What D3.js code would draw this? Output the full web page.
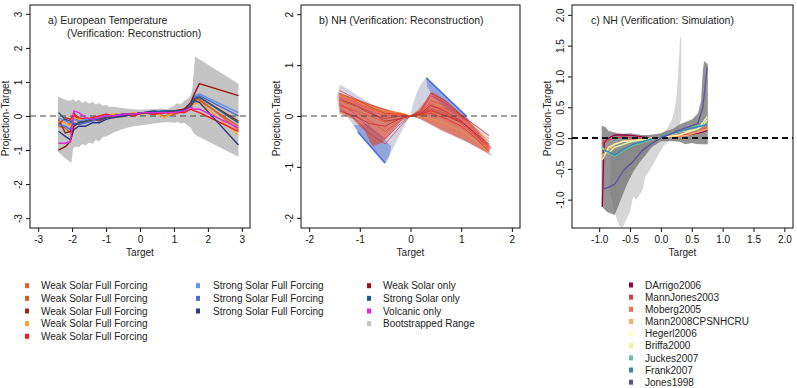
<!DOCTYPE html>
<html>
<head>
<meta charset="utf-8">
<script src="https://cdn.jsdelivr.net/npm/d3@7"></script>
<style>
  body { margin: 0; background: #fff; }
  svg { font-family: "Liberation Sans", Arial, sans-serif; }
</style>
</head>
<body>
<svg id="chart" width="797" height="388"></svg>
<script>
// ---------- panel a: European temperature ----------
const aTarget = [-2.4, -2.2, -2.05, -1.95, -1.8, -1.6, -1.4, -1.2, -1.0, -0.8, -0.5, -0.2, 0.1, 0.4, 0.7, 1.0, 1.3, 1.5, 1.6, 1.75, 2.9];
const weakFull1 = [-0.2, -0.1, -0.25, 0.0, -0.1, -0.05, -0.12, -0.05, 0.0, -0.05, 0.0, 0.05, 0.1, 0.05, 0.1, 0.05, 0.15, 0.3, 0.45, 0.5, -0.4];
const weakFull2 = [-0.3, -0.35, -0.5, -0.1, -0.15, -0.2, -0.1, -0.1, -0.05, -0.02, 0.02, 0.05, 0.1, 0.12, 0.0, 0.05, 0.2, 0.35, 0.4, 0.45, -0.3];
const weakFull3 = [-0.1, -0.5, -0.45, 0.1, -0.2, -0.15, -0.1, -0.15, -0.05, 0.0, -0.02, 0.05, 0.08, 0.1, 0.15, 0.1, 0.2, 0.35, 0.5, 0.55, -0.15];
const weakFull4 = [-0.15, -0.2, -0.3, -0.05, -0.1, -0.15, -0.05, -0.1, 0.0, 0.05, 0.05, 0.1, 0.05, 0.15, -0.05, 0.1, 0.2, 0.25, 0.35, 0.4, -0.55];
const weakFull5 = [-0.25, -0.05, -0.1, 0.05, -0.05, -0.1, -0.05, 0.0, 0.05, 0.0, 0.05, 0.0, 0.1, 0.05, 0.1, 0.1, 0.1, 0.2, 0.15, 0.1, -0.45];
const strongFull1 = [-0.05, -0.15, -0.2, -0.1, -0.15, -0.1, -0.1, -0.05, 0.0, 0.0, 0.05, 0.05, 0.1, 0.15, 0.15, 0.15, 0.2, 0.4, 0.6, 0.65, 0.1];
const strongFull2 = [-0.25, -0.3, -0.4, -0.2, -0.25, -0.2, -0.15, -0.1, -0.05, 0.0, 0.0, 0.05, 0.1, 0.1, 0.15, 0.15, 0.15, 0.35, 0.55, 0.6, 0.0];
const strongFull3 = [-0.45, -0.6, -0.7, -0.4, -0.3, -0.3, -0.2, -0.2, -0.1, -0.05, 0.0, 0.05, 0.1, 0.15, 0.1, 0.15, 0.15, 0.3, 0.45, 0.4, -0.85];
const weakOnly = [-1.0, -0.9, -0.75, -0.3, -0.2, -0.15, -0.1, -0.1, -0.05, 0.0, 0.05, 0.05, 0.1, 0.1, 0.1, 0.15, 0.2, 0.4, 0.65, 0.95, 0.6];
const strongOnly = [0.1, -0.1, -0.15, -0.25, -0.2, -0.15, -0.1, -0.1, -0.05, 0.0, 0.05, 0.05, 0.1, 0.1, 0.15, 0.15, 0.15, 0.3, 0.5, 0.55, -0.2];
const volcanicOnly = [-0.8, -0.8, -0.75, 0.15, 0.1, -0.05, -0.1, -0.05, 0.0, 0.0, 0.05, 0.05, 0.1, 0.1, 0.1, 0.1, 0.15, 0.25, 0.2, 0.2, -0.35];

const aBandTarget = [-2.42, -2.3, -2.2, -2.1, -2.02, -1.97, -1.9, -1.8, -1.7, -1.6, -1.5, -1.4, -1.3, -1.2, -1.1, -1.0, -0.9, -0.8, -0.6, -0.4, -0.2, 0, 0.2, 0.4, 0.6, 0.8, 1.0, 1.1, 1.2, 1.3, 1.4, 1.5, 1.55, 1.62, 2.9];
const aBandUpper = [0.57, 0.52, 0.48, 0.45, 0.47, 0.5, 0.42, 0.48, 0.38, 0.44, 0.36, 0.42, 0.34, 0.38, 0.3, 0.33, 0.26, 0.28, 0.24, 0.22, 0.2, 0.18, 0.2, 0.2, 0.22, 0.2, 0.3, 0.38, 0.34, 0.45, 0.5, 0.62, 0.86, 1.75, 0.95];
const aBandLower = [-1.05, -1.15, -1.25, -1.32, -1.38, -0.95, -0.9, -0.92, -0.82, -0.86, -0.78, -0.82, -0.7, -0.75, -0.62, -0.6, -0.55, -0.5, -0.42, -0.35, -0.3, -0.28, -0.25, -0.22, -0.2, -0.18, -0.2, -0.18, -0.22, -0.2, -0.28, -0.35, -0.45, -0.55, -1.2];

const aSeries = [weakFull1, weakFull2, weakFull3, weakFull4, weakFull5, strongFull1, strongFull2, strongFull3, weakOnly, strongOnly, volcanicOnly];
const aNames = ["Weak Solar Full Forcing", "Weak Solar Full Forcing", "Weak Solar Full Forcing", "Weak Solar Full Forcing", "Weak Solar Full Forcing",
  "Strong Solar Full Forcing", "Strong Solar Full Forcing", "Strong Solar Full Forcing", "Weak Solar only", "Strong Solar only", "Volcanic only"];
const aColors = ["#ef5a26", "#cf5f2a", "#8a2f14", "#f7a62c", "#ee1a16", "#5e90f0", "#4d6ad6", "#2b3a7e", "#981010", "#1f5b82", "#e326e0"];

// ---------- panel b: NH, verification reconstruction ----------
const bLightLeft = [[-1.39, 0.62], [-1.46, 0.36], [-1.42, 0.18], [-1.2, -0.08], [-1.04, -0.31], [-0.5, -0.93], [-0.38, -0.7], [-0.2, -0.35], [-0.05, -0.05], [0.0, 0.0], [-0.3, 0.06], [-0.8, 0.25], [-1.2, 0.5]];
const bLightRight = [[0.0, 0.0], [0.04, 0.2], [0.12, 0.45], [0.2, 0.62], [0.31, 0.75], [0.7, 0.38], [1.1, 0.0], [1.35, -0.35], [1.62, -0.8], [1.45, -0.7], [1.0, -0.45], [0.5, -0.2], [0.15, -0.05]];
const bBlueLeft = [[-1.12, -0.18], [-1.04, -0.31], [-0.5, -0.93], [-0.42, -0.8], [-0.38, -0.6], [-0.55, -0.42], [-0.85, -0.15]];
const bBlueRight = [[0.31, 0.75], [0.7, 0.38], [1.1, 0.0], [1.18, -0.12], [1.0, -0.05], [0.7, 0.14], [0.45, 0.38], [0.33, 0.58]];
const bRedLeft = [[-1.42, 0.45], [-1.1, 0.35], [-0.7, 0.2], [-0.35, 0.1], [-0.1, 0.05], [0.0, 0.0], [-0.15, -0.05], [-0.35, -0.3], [-0.55, -0.52], [-0.75, -0.6], [-0.9, -0.3], [-1.15, -0.05], [-1.4, 0.05]];
const bRedRight = [[0.0, 0.0], [0.15, 0.12], [0.3, 0.3], [0.42, 0.48], [0.7, 0.3], [1.05, 0.0], [1.35, -0.3], [1.6, -0.62], [1.52, -0.72], [1.1, -0.5], [0.6, -0.28], [0.2, -0.06]];
const bTarget = [-1.4, -1.1, -0.8, -0.5, -0.2, 0, 0.2, 0.4, 0.7, 1.0, 1.3, 1.55];
const bMembers = [
  [0.45, 0.32, 0.22, 0.12, 0.05, 0.0, 0.05, 0.15, 0.05, -0.15, -0.4, -0.6],
  [0.35, 0.25, 0.15, 0.08, 0.04, 0.0, 0.1, 0.25, 0.12, -0.05, -0.3, -0.5],
  [0.3, 0.2, 0.05, -0.05, 0.0, 0.0, 0.02, 0.05, -0.05, -0.2, -0.45, -0.7],
  [0.2, 0.1, -0.1, -0.3, -0.1, 0.0, 0.05, 0.3, 0.2, 0.0, -0.25, -0.45],
  [0.25, 0.05, -0.25, -0.45, -0.15, 0.0, 0.08, 0.4, 0.25, 0.02, -0.2, -0.4],
  [0.4, 0.3, 0.2, 0.1, 0.06, 0.0, 0.0, -0.05, -0.15, -0.3, -0.5, -0.72],
  [0.1, 0.0, -0.15, -0.2, -0.05, 0.0, 0.03, 0.1, 0.0, -0.12, -0.35, -0.55],
  [0.38, 0.28, 0.1, 0.0, 0.02, 0.0, 0.06, 0.2, 0.1, -0.08, -0.32, -0.62],
  [0.15, -0.05, -0.35, -0.55, -0.2, 0.0, 0.1, 0.45, 0.3, 0.0, -0.2, -0.38],
  [0.3, 0.18, 0.12, 0.06, 0.03, 0.0, -0.02, -0.1, -0.2, -0.35, -0.55, -0.75],
  [0.5, 0.35, 0.18, 0.05, 0.04, 0.0, 0.04, 0.12, 0.02, -0.1, -0.38, -0.65],
  [0.22, 0.12, 0.0, -0.12, -0.04, 0.0, 0.05, 0.18, 0.15, -0.02, -0.28, -0.5],
  [0.33, 0.22, 0.08, -0.1, -0.06, 0.0, 0.04, 0.22, 0.08, -0.1, -0.36, -0.58],
  [0.42, 0.3, 0.14, 0.02, 0.02, 0.0, 0.02, 0.08, -0.08, -0.22, -0.42, -0.68]
];
const bMemberColors = ["#e8301c", "#f06a22", "#c41a1a", "#e0452a", "#d82b5a", "#f5a21e", "#b0161e", "#e83c8c", "#cc2030", "#f08030", "#d42020", "#e85020", "#a81828", "#ff5a1a"];

// ---------- panel c: NH, verification simulation ----------
const cLightBand = [[-0.82, -0.2], [-0.6, -0.15], [-0.4, -0.12], [-0.2, -0.05], [0.0, 0.05], [0.1, 0.15], [0.18, 0.3], [0.22, 0.45], [0.26, 0.75], [0.28, 1.1], [0.3, 1.4], [0.31, 1.65], [0.33, 1.6], [0.33, 0.3], [0.25, 0.1], [0.15, -0.02], [0.05, -0.12], [-0.05, -0.28], [-0.12, -0.42], [-0.2, -0.55], [-0.25, -0.62], [-0.3, -0.85], [-0.4, -1.0], [-0.45, -0.95], [-0.5, -1.2], [-0.55, -1.3], [-0.62, -1.45], [-0.68, -1.42], [-0.75, -1.2], [-0.82, -0.9]];
const cDarkBand = [[-0.96, 0.2], [-0.9, 0.18], [-0.85, 0.12], [-0.78, 0.1], [-0.7, 0.08], [-0.6, 0.07], [-0.5, 0.08], [-0.4, 0.06], [-0.3, 0.05], [-0.2, 0.05], [-0.1, 0.06], [0.0, 0.08], [0.1, 0.12], [0.2, 0.15], [0.3, 0.22], [0.4, 0.26], [0.5, 0.3], [0.55, 0.35], [0.6, 0.4], [0.65, 0.6], [0.68, 1.1], [0.7, 1.25], [0.76, 1.2], [0.76, -0.1], [0.6, -0.1], [0.5, -0.08], [0.4, -0.1], [0.3, -0.06], [0.2, -0.05], [0.0, -0.05], [-0.15, -0.15], [-0.25, -0.28], [-0.35, -0.4], [-0.45, -0.55], [-0.55, -0.75], [-0.65, -1.0], [-0.75, -1.25], [-0.87, -1.2], [-0.92, -1.15], [-0.96, -1.1]];
const cTarget = [-0.95, -0.92, -0.85, -0.75, -0.6, -0.45, -0.3, -0.15, 0, 0.15, 0.3, 0.45, 0.6, 0.68, 0.75];
const dArrigo2006 = [-1.12, -0.08, 0.0, 0.05, 0.05, 0.04, 0.02, 0.0, 0.02, 0.03, 0.05, 0.05, 0.08, 0.1, 0.12];
const mannJones2003 = [-0.1, -0.05, -0.03, 0.0, 0.02, 0.0, 0.0, 0.0, 0.0, 0.02, 0.03, 0.05, 0.1, 0.15, 0.15];
const moberg2005 = [-0.2, -0.18, -0.15, -0.1, -0.05, -0.03, -0.02, 0.0, 0.02, 0.03, 0.05, 0.08, 0.1, 0.15, 0.2];
const mann2008 = [-0.3, -0.25, -0.2, -0.1, -0.05, -0.03, -0.02, 0.0, 0.0, 0.02, 0.03, 0.05, 0.1, 0.12, 0.15];
const hegerl2006 = [-0.35, -0.3, -0.15, -0.1, -0.05, -0.05, -0.02, 0.0, 0.0, 0.03, 0.05, 0.1, 0.15, 0.25, 0.35];
const briffa2000 = [-0.15, -0.2, -0.25, -0.15, -0.1, -0.05, -0.03, 0.0, 0.02, 0.05, 0.1, 0.12, 0.15, 0.2, 0.3];
const juckes2007 = [-0.15, -0.18, -0.25, -0.3, -0.2, -0.12, -0.08, -0.02, 0.02, 0.08, 0.12, 0.18, 0.2, 0.2, 0.25];
const frank2007 = [-0.2, -0.2, -0.22, -0.28, -0.18, -0.1, -0.06, -0.01, 0.02, 0.07, 0.1, 0.15, 0.18, 0.2, 0.22];
const jones1998 = [-0.83, -0.82, -0.8, -0.75, -0.52, -0.38, -0.2, -0.09, 0.0, 0.06, 0.13, 0.18, 0.24, 0.5, 1.15];
const cSeries = [dArrigo2006, mannJones2003, moberg2005, mann2008, hegerl2006, briffa2000, juckes2007, frank2007, jones1998];
const cNames = ["DArrigo2006", "MannJones2003", "Moberg2005", "Mann2008CPSNHCRU", "Hegerl2006", "Briffa2000", "Juckes2007", "Frank2007", "Jones1998"];
const cColors = ["#9e0142", "#d53e4f", "#f46d43", "#fdae61", "#ffffbf", "#e6f598", "#66c2a5", "#3288bd", "#5e4fa2"];

let svg = d3.select("#chart");
let plotTop = 5, plotBottom = 228;

let makePanel = (id, left, right, xDomain, yDomain, xTicks, yTicks, fmt) => {
  let x = d3.scaleLinear().domain(xDomain).range([left, right]);
  let y = d3.scaleLinear().domain(yDomain).range([plotBottom, plotTop]);
  let g = svg.append("g").attr("class", "panel-" + id);

  svg.append("clipPath").attr("id", "clip-" + id)
    .append("rect").attr("x", left).attr("y", plotTop)
    .attr("width", right - left).attr("height", plotBottom - plotTop);

  let plot = g.append("g").attr("clip-path", `url(#clip-${id})`);

  let xAxis = g.append("g")
    .attr("transform", `translate(0, ${plotBottom})`)
    .call(d3.axisBottom(x).tickValues(xTicks).tickSize(4).tickSizeOuter(0).tickFormat(fmt));
  xAxis.select(".domain").remove();
  xAxis.selectAll("text").attr("y", 8).attr("font-size", 10).attr("fill", "#111");

  let yAxis = g.append("g")
    .attr("transform", `translate(${left}, 0)`)
    .call(d3.axisLeft(y).tickValues(yTicks).tickSize(4).tickSizeOuter(0).tickFormat(fmt));
  yAxis.select(".domain").remove();
  yAxis.selectAll("text")
    .attr("x", 0).attr("dy", "0.35em")
    .attr("text-anchor", "middle")
    .attr("transform", "translate(-12, 0) rotate(-90)")
    .attr("font-size", 10).attr("fill", "#111");
  g.selectAll(".tick line").attr("stroke", "#111");

  g.append("text")
    .attr("x", (left + right) / 2).attr("y", 256)
    .attr("text-anchor", "middle").attr("font-size", 10).attr("fill", "#222")
    .text("Target");
  g.append("text")
    .attr("transform", `translate(${left - 25}, ${(plotTop + plotBottom) / 2 + 2}) rotate(-90)`)
    .attr("dy", "0.35em")
    .attr("text-anchor", "middle").attr("font-size", 10).attr("fill", "#222")
    .text("Projection-Target");

  return { g, plot, x, y, left, right };
};

let drawBox = (p) => {
  p.g.append("rect")
    .attr("x", p.left).attr("y", plotTop)
    .attr("width", p.right - p.left).attr("height", plotBottom - plotTop)
    .attr("fill", "none").attr("stroke", "#111").attr("stroke-width", 1);
};

let zeroLine = (p, width, color) => {
  p.plot.append("line")
    .attr("x1", p.left).attr("x2", p.right)
    .attr("y1", p.y(0)).attr("y2", p.y(0))
    .attr("stroke", color).attr("stroke-width", width)
    .attr("stroke-dasharray", "6,4");
};

let intFmt = d => String(d);
let decFmt = d => d.toFixed(1);

// ---- panel a
let pa = makePanel("a", 30, 250, [-3.24, 3.24], [-3.29, 3.26], d3.range(-3, 4), d3.range(-3, 4), intFmt);

let band = d3.area()
  .x(d => pa.x(d[0]))
  .y0(d => pa.y(d[2]))
  .y1(d => pa.y(d[1]));

pa.plot.append("path")
  .datum(d3.zip(aBandTarget, aBandUpper, aBandLower))
  .attr("d", band)
  .attr("fill", "#c4c4c4");

zeroLine(pa, 1, "#444");

let aLine = d3.line().x(d => pa.x(d[0])).y(d => pa.y(d[1]));
aSeries.forEach((vals, i) => {
  pa.plot.append("path")
    .datum(d3.zip(aTarget, vals))
    .attr("d", aLine)
    .attr("fill", "none")
    .attr("stroke", aColors[i])
    .attr("stroke-width", 1.4)
    .attr("stroke-linejoin", "round");
});

drawBox(pa);
pa.g.append("text").attr("x", 48).attr("y", 24).attr("font-size", 10.5).attr("fill", "#222")
  .text("a) European Temperature");
pa.g.append("text").attr("x", 67).attr("y", 37).attr("font-size", 10.5).attr("fill", "#222")
  .text("(Verification: Reconstruction)");

// ---- panel b
let pb = makePanel("b", 301, 520, [-2.16, 2.16], [-2.2, 2.18], d3.range(-2, 3), d3.range(-2, 3), intFmt);
let bPoly = d3.line().x(d => pb.x(d[0])).y(d => pb.y(d[1])).curve(d3.curveLinearClosed);

[bLightLeft, bLightRight].forEach(poly => {
  pb.plot.append("path").attr("d", bPoly(poly)).attr("fill", "#c6c8d8").attr("opacity", 0.8);
});
[bBlueLeft, bBlueRight].forEach(poly => {
  pb.plot.append("path").attr("d", bPoly(poly)).attr("fill", "#4a6ad6").attr("opacity", 0.45);
});
[bRedLeft, bRedRight].forEach(poly => {
  pb.plot.append("path").attr("d", bPoly(poly)).attr("fill", "#e0381c").attr("opacity", 0.55);
});

// outer blue edges of the strong solar members
let bLine = d3.line().x(d => pb.x(d[0])).y(d => pb.y(d[1]));
pb.plot.append("path").attr("d", bLine([bBlueLeft[1], bBlueLeft[2]]))
  .attr("stroke", "#4470e0").attr("stroke-width", 1.6).attr("fill", "none");
pb.plot.append("path").attr("d", bLine([bBlueRight[0], bBlueRight[2]]))
  .attr("stroke", "#4470e0").attr("stroke-width", 1.6).attr("fill", "none");

bMembers.forEach((vals, i) => {
  pb.plot.append("path")
    .datum(d3.zip(bTarget, vals))
    .attr("d", bLine)
    .attr("fill", "none")
    .attr("stroke", bMemberColors[i])
    .attr("stroke-width", 0.7)
    .attr("opacity", 0.85);
});

zeroLine(pb, 1, "#444");
drawBox(pb);
pb.g.append("text").attr("x", 319).attr("y", 24).attr("font-size", 10.5).attr("fill", "#222")
  .text("b) NH (Verification: Reconstruction)");

// ---- panel c
let cTicks = [-1, -0.5, 0, 0.5, 1, 1.5, 2];
let pc = makePanel("c", 572, 793, [-1.44, 2.14], [-1.46, 2.16], cTicks, cTicks, decFmt);
let cPoly = d3.line().x(d => pc.x(d[0])).y(d => pc.y(d[1])).curve(d3.curveLinearClosed);

pc.plot.append("path").attr("d", cPoly(cLightBand)).attr("fill", "#d6d6d6");
pc.plot.append("path").attr("d", cPoly(cDarkBand)).attr("fill", "#6f6f6f").attr("opacity", 0.75);

let cLine = d3.line().x(d => pc.x(d[0])).y(d => pc.y(d[1]));
cSeries.forEach((vals, i) => {
  pc.plot.append("path")
    .datum(d3.zip(cTarget, vals))
    .attr("d", cLine)
    .attr("fill", "none")
    .attr("stroke", cColors[i])
    .attr("stroke-width", 1.3)
    .attr("stroke-linejoin", "round");
});

zeroLine(pc, 2, "#111");
drawBox(pc);
pc.g.append("text").attr("x", 591).attr("y", 24).attr("font-size", 10.5).attr("fill", "#222")
  .text("c) NH (Verification: Simulation)");

// ---- legends
let legendColumn = (names, colors, mx, tx, y0, step) => {
  let rows = svg.append("g").selectAll("g").data(names).enter().append("g")
    .attr("transform", (d, i) => `translate(0, ${y0 + i * step})`);
  rows.append("rect")
    .attr("x", mx - 2).attr("y", -2.5).attr("width", 4).attr("height", 5)
    .attr("fill", (d, i) => colors[i]);
  rows.append("text")
    .attr("x", tx).attr("dy", "0.36em")
    .attr("font-size", 10).attr("fill", "#222")
    .text(d => d);
};

legendColumn(aNames.slice(0, 5), aColors.slice(0, 5), 27, 41, 285.7, 12.65);
legendColumn(aNames.slice(5, 8), aColors.slice(5, 8), 198, 213, 285.7, 12.65);
legendColumn(aNames.slice(8).concat(["Bootstrapped Range"]), aColors.slice(8).concat(["#c4c4c4"]), 369, 383, 285.7, 12.65);
legendColumn(cNames, cColors, 631, 645, 285, 12.15);
</script>
</body>
</html>
